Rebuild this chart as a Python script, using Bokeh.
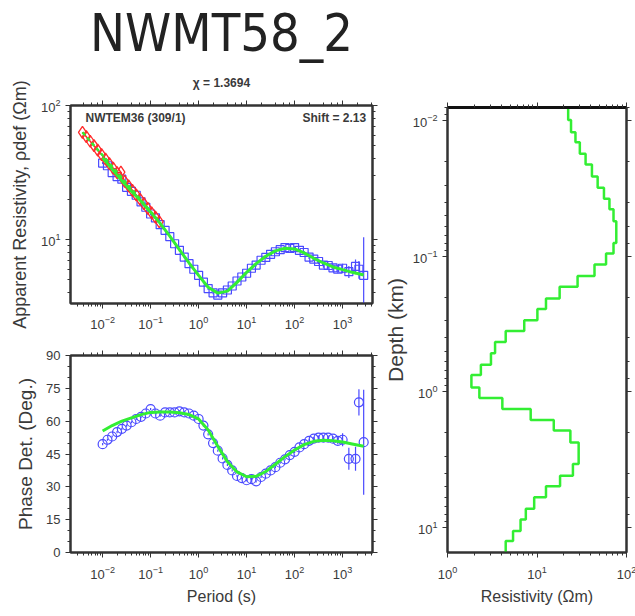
from bokeh.plotting import figure
from bokeh.layouts import row, column
from bokeh.models import (Range1d, LogAxis, LinearAxis, FixedTicker, Title, Label)
from bokeh.embed import file_html
from bokeh.resources import INLINE

FONT = "Liberation Sans"
TITLE_FONT = "DejaVu Sans Condensed"

# ---------------- data ----------------
period = [0.01, 0.0126, 0.0158, 0.02, 0.0251, 0.0316, 0.0398, 0.0501, 0.0631, 0.0794,
          0.1, 0.126, 0.158, 0.2, 0.251, 0.316, 0.398, 0.501, 0.631, 0.794,
          1.0, 1.26, 1.58, 2.0, 2.51, 3.16, 3.98, 5.01, 6.31, 7.94,
          10, 12.6, 15.8, 20, 25.1, 31.6, 39.8, 50.1, 63.1, 79.4,
          100, 126, 158, 200, 251, 316, 398, 501, 631, 794,
          1000, 1350, 1860, 2190, 2750]

rho_obs = [37.2, 35.5, 31.6, 29.5, 28.2, 24.5, 22.9, 21.4, 19.1, 17.4,
           15.5, 14.5, 12.9, 11.7, 10.5, 9.3, 8.3, 7.4, 6.6, 6.0,
           5.4, 4.8, 4.3, 4.0, 3.85, 4.0, 4.2, 4.5, 4.9, 5.25,
           5.6, 6.1, 6.45, 7.0, 7.35, 7.75, 8.1, 8.4, 8.7, 8.6,
           8.7, 8.3, 8.0, 7.4, 7.15, 6.85, 6.45, 6.4, 6.15, 6.0,
           6.1, 5.75, 6.3, 6.0, 5.4]

rho_err = [0.6, 0.6, 0.5, 0.5, 0.5, 0.4, 0.4, 0.4, 0.3, 0.3,
           0.3, 0.3, 0.2, 0.2, 0.2, 0.2, 0.15, 0.15, 0.1, 0.1,
           0.1, 0.1, 0.1, 0.1, 0.1, 0.1, 0.1, 0.1, 0.1, 0.1,
           0.1, 0.1, 0.15, 0.15, 0.15, 0.2, 0.2, 0.2, 0.2, 0.2,
           0.2, 0.2, 0.2, 0.25, 0.25, 0.3, 0.3, 0.35, 0.4, 0.4,
           0.5, 0.6, 0.8, 0.9, 5.0]

phase_obs = [49.5, 51.5, 53.0, 55.0, 56.5, 58.0, 59.5, 61.0, 62.0, 63.5,
             65.5, 63.5, 62.5, 64.0, 64.0, 64.0, 64.5, 64.0, 63.5, 62.5,
             61.0, 58.0, 54.0, 50.0, 46.5, 43.0, 40.0, 37.5, 35.0, 34.0,
             33.0, 33.5, 32.5, 34.5, 36.0, 37.5, 39.0, 41.0, 42.5, 44.5,
             46.0, 48.0, 49.5, 51.0, 52.0, 52.5, 52.5, 52.5, 52.0, 51.0,
             51.5, 42.8, 42.8, 68.6, 50.4]

phase_err = [0.5, 0.5, 0.5, 0.5, 0.5, 0.5, 0.5, 0.5, 0.5, 0.5,
             0.5, 0.5, 0.5, 0.5, 0.5, 0.5, 0.5, 0.5, 0.5, 0.5,
             0.5, 0.5, 0.5, 0.5, 0.5, 0.5, 0.5, 0.5, 0.5, 0.5,
             0.5, 0.5, 0.5, 0.5, 0.5, 0.5, 0.5, 0.5, 0.5, 0.5,
             0.6, 0.6, 0.7, 0.7, 0.8, 0.9, 1.0, 1.0, 1.2, 1.5,
             3.0, 5.0, 5.5, 6.0, 24.0]

model_period = [0.01, 0.0158, 0.0251, 0.0398, 0.0631, 0.1, 0.158, 0.251, 0.398, 0.631,
                1.0, 1.58, 2.51, 3.98, 6.31, 10, 15.8, 25.1, 39.8, 63.1,
                100, 158, 251, 398, 631, 1000, 1580, 2750]
model_rho = [40.7, 33.5, 27.5, 22.9, 19.3, 16.0, 13.2, 10.6, 8.4, 6.7,
             5.4, 4.4, 3.98, 4.12, 4.79, 5.69, 6.61, 7.5, 8.22, 8.61,
             8.51, 7.94, 7.24, 6.68, 6.24, 5.96, 5.69, 5.43]
model_phase = [55.5, 58.0, 60.0, 61.5, 63.0, 64.0, 64.2, 64.2, 63.8, 63.0,
               61.0, 56.0, 48.5, 41.5, 36.8, 34.6, 34.8, 37.0, 40.3, 43.8,
               46.8, 49.3, 50.8, 51.3, 51.1, 50.5, 49.6, 48.5]

tem_period = [0.0038, 0.00457, 0.0055, 0.0066, 0.0079, 0.0095, 0.0115, 0.0138, 0.0166, 0.020,
              0.024, 0.0288, 0.0347, 0.0417, 0.050, 0.060, 0.0724, 0.087, 0.105, 0.126, 0.151]
tem_rho = [63.1, 58.5, 54.1, 50.1, 46.4, 43.0, 39.8, 36.9, 34.1, 31.6,
           31.8, 27.1, 25.1, 23.3, 21.5, 20.0, 18.5, 17.1, 15.8, 14.7, 13.6]
tem_model_period = [0.0038, 0.01, 0.0398, 0.151]
tem_model_rho = [63.1, 42.5, 23.8, 13.6]

# layered resistivity model (interfaces in km, resistivity in Ohm-m)
depth_interfaces = [0.00989, 0.0122, 0.01445, 0.01758, 0.0211, 0.0258, 0.0313, 0.0377, 0.0451,
                    0.0553, 0.0798, 0.0955, 0.115, 0.140, 0.168, 0.205, 0.245, 0.296, 0.356,
                    0.429, 0.519, 0.632, 0.750, 0.929, 1.11, 1.34, 1.61, 1.93, 2.36, 3.40,
                    4.15, 4.97, 5.98, 7.29, 8.74, 10.6, 12.6]
layer_rho = [22.3, 24.0, 26.9, 30.1, 34.9, 41.1, 47.6, 56.0, 64.5, 71.6, 76.9, 71.6, 59.1,
             43.9, 28.4, 17.9, 12.6, 10.1, 7.2, 4.47, 3.4, 3.06, 2.36, 1.85, 2.27, 4.1, 8.5,
             15.4, 23.6, 29.2, 25.2, 18.1, 12.6, 9.3, 7.5, 6.55, 5.4, 4.47]

phase_ticks = [0, 15, 30, 45, 60, 75, 90]
phase_minor = [0, 5, 10, 15, 20, 25, 30, 35, 40, 45, 50, 55, 60, 65, 70, 75, 80, 85, 90]

title_text = "NWMT58_2"
chi_text = "\u03c7 = 1.3694"
tem_text = "NWTEM36 (309/1)"
shift_text = "Shift = 2.13"

BLUE = "#4a4aff"
GREEN = "#33ee33"
RED = "#ff2a2a"
AX = "#333333"
TXT = "#3a3a3a"


def style_axis(ax, labels=True):
    ax.axis_line_color = AX
    ax.axis_line_width = 2
    ax.major_tick_line_color = AX
    ax.minor_tick_line_color = AX
    ax.major_tick_in = 0
    ax.major_tick_out = 5
    ax.minor_tick_in = 0
    ax.minor_tick_out = 3
    ax.major_tick_line_width = 1
    ax.minor_tick_line_width = 1
    ax.major_label_text_font = FONT
    ax.major_label_text_color = TXT
    ax.axis_label_text_font = FONT
    ax.axis_label_text_color = TXT
    ax.axis_label_text_font_style = "normal"
    ax.axis_label_text_font_size = "16px"
    if labels:
        ax.major_label_text_font_size = "13px"
    else:
        ax.major_label_text_font_size = "2px"
        ax.major_label_text_alpha = 0
        ax.major_label_standoff = 0


def base_fig(**kw):
    p = figure(output_backend="svg", toolbar_location=None, **kw)
    p.grid.visible = False
    p.outline_line_color = AX
    p.outline_line_width = 2
    p.background_fill_color = "white"
    p.border_fill_color = "white"
    return p


# ---------------- apparent resistivity ----------------
p1 = base_fig(x_axis_type="log", y_axis_type="log",
              x_range=Range1d(0.00214, 4200), y_range=Range1d(3.33, 100),
              frame_width=302, frame_height=198,
              min_border_left=70, min_border_right=8, min_border_top=105, min_border_bottom=37)
rho_ticker = FixedTicker(ticks=[10, 100], minor_ticks=[4, 5, 6, 7, 8, 9, 20, 30, 40, 50, 60, 70, 80, 90])
p1.yaxis.ticker = rho_ticker
for ax in p1.xaxis + p1.yaxis:
    style_axis(ax)
p1.yaxis.axis_label = "Apparent Resistivity, \u03c1def (\u03a9m)"
p1.yaxis.axis_label_text_font_size = "18px"
p1.yaxis.axis_label_standoff = 8
p1.xaxis.major_label_standoff = 7

top1 = LogAxis()
style_axis(top1, labels=False)
p1.add_layout(top1, "above")
right1 = LogAxis(ticker=rho_ticker)
style_axis(right1, labels=False)
p1.add_layout(right1, "right")

p1.add_layout(Title(text=chi_text, align="center", text_font=FONT, text_font_size="12px",
                    text_font_style="bold", text_color=TXT, standoff=22), "above")
p1.add_layout(Title(text=title_text, align="center", text_font=TITLE_FONT, text_font_size="52px",
                    text_font_style="normal", text_color="#222222", standoff=0), "above")

lo = [r - e for r, e in zip(rho_obs, rho_err)]
hi = [r + e for r, e in zip(rho_obs, rho_err)]
p1.segment(x0=period, y0=[max(v, 0.5) for v in lo], x1=period, y1=hi, line_color=BLUE, line_width=1.2)
p1.scatter(period, rho_obs, marker="square", size=8, fill_color=None, line_color=BLUE, line_width=1.2)
p1.line(tem_period, tem_rho, line_color=RED, line_width=1.5)
p1.scatter(tem_period, tem_rho, marker="diamond", size=12, fill_color=None, line_color=RED, line_width=1.3)
p1.line(model_period, model_rho, line_color=GREEN, line_width=3)
p1.line(tem_model_period, tem_model_rho, line_color=GREEN, line_width=2.5, line_dash="4 3")

p1.add_layout(Label(x=0.0044, y=91, text=tem_text, text_font=FONT, text_font_size="12px",
                    text_font_style="bold", text_color=TXT, text_baseline="top"))
p1.add_layout(Label(x=3100, y=91, text=shift_text, text_font=FONT, text_font_size="12px",
                    text_font_style="bold", text_color=TXT, text_baseline="top", text_align="right"))

# ---------------- phase ----------------
p2 = base_fig(x_axis_type="log",
              x_range=Range1d(0.00214, 4200), y_range=Range1d(0, 90),
              frame_width=302, frame_height=197,
              min_border_left=70, min_border_right=8, min_border_top=15, min_border_bottom=64)
ph_ticker = FixedTicker(ticks=phase_ticks, minor_ticks=phase_minor)
p2.yaxis.ticker = ph_ticker
for ax in p2.xaxis + p2.yaxis:
    style_axis(ax)
p2.yaxis.axis_label = "Phase Det. (Deg.)"
p2.yaxis.axis_label_text_font_size = "19px"
p2.yaxis.axis_label_standoff = 7
p2.xaxis.axis_label = "Period (s)"
p2.xaxis.major_label_standoff = 8
p2.xaxis.axis_label_standoff = 6
top2 = LogAxis()
style_axis(top2, labels=False)
p2.add_layout(top2, "above")
right2 = LinearAxis(ticker=ph_ticker)
style_axis(right2, labels=False)
p2.add_layout(right2, "right")

plo = [v - e for v, e in zip(phase_obs, phase_err)]
phi = [v + e for v, e in zip(phase_obs, phase_err)]
p2.segment(x0=period, y0=plo, x1=period, y1=phi, line_color=BLUE, line_width=1.2)
p2.scatter(period, phase_obs, marker="circle", size=9, fill_color=None, line_color=BLUE, line_width=1.2)
p2.line(model_period, model_phase, line_color=GREEN, line_width=3)

# ---------------- layered model ----------------
p3 = base_fig(x_axis_type="log", y_axis_type="log",
              x_range=Range1d(1, 100), y_range=Range1d(15.3, 0.008),
              frame_width=179, frame_height=445,
              min_border_left=65, min_border_right=11, min_border_top=107, min_border_bottom=64)
res_ticker = FixedTicker(ticks=[1, 10, 100],
                         minor_ticks=[2, 3, 4, 5, 6, 7, 8, 9, 20, 30, 40, 50, 60, 70, 80, 90])
p3.xaxis.ticker = res_ticker
for ax in p3.xaxis + p3.yaxis:
    style_axis(ax)
p3.xaxis.axis_label = "Resistivity (\u03a9m)"
p3.yaxis.axis_label = "Depth (km)"
p3.yaxis.axis_label_text_font_size = "21px"
p3.xaxis.major_label_standoff = 8
p3.xaxis.axis_label_standoff = 6
p3.yaxis.axis_label_standoff = 3
top3 = LogAxis(ticker=res_ticker)
style_axis(top3, labels=False)
top3.axis_line_width = 3
top3.axis_line_color = "#111111"
p3.add_layout(top3, "above")
right3 = LogAxis()
style_axis(right3, labels=False)
p3.add_layout(right3, "right")

tops = [0.004] + depth_interfaces
bots = depth_interfaces + [30.0]
xs, ys = [], []
for r, t, b in zip(layer_rho, tops, bots):
    xs += [r, r]
    ys += [t, b]
p3.line(xs, ys, line_color=GREEN, line_width=2.5)

layout = row(column(p1, p2), p3)
open("out.html", "w").write(file_html(layout, INLINE))
